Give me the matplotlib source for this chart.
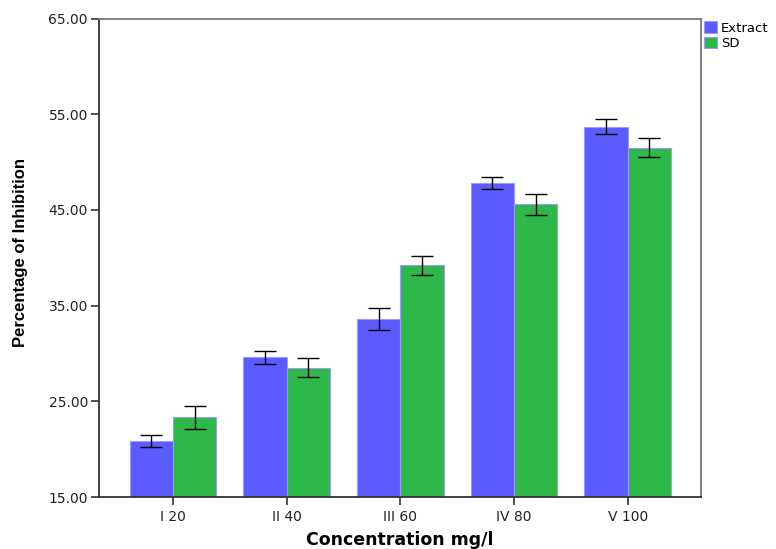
import numpy as np
import matplotlib.pyplot as plt

# data
groups = ['I 20', 'II 40', 'III 60', 'IV 80', 'V 100']
extract = [20.85, 29.6, 33.6, 47.8, 53.7]
extract_err = [0.6, 0.7, 1.2, 0.6, 0.8]
sd = [23.35, 28.5, 39.2, 45.6, 51.5]
sd_err = [1.2, 1.0, 1.0, 1.1, 1.0]

plt.rcParams['font.family'] = ['DejaVu Sans']

fig = plt.figure(figsize=(7.76, 5.49), dpi=100)
ax = fig.add_axes([0.1276, 0.0947, 0.7758, 0.8716])

x = np.arange(len(groups))
w = 0.38
ax.bar(x - w/2, extract, w, color='#5b5bff', edgecolor='#9a9aff',
       linewidth=0.8, label='Extract', zorder=2)
ax.bar(x + w/2, sd, w, color='#2fb84a', edgecolor='#9a9aff',
       linewidth=0.8, label='SD', zorder=2)
ax.errorbar(x - w/2, extract, yerr=extract_err, fmt='none', ecolor='black',
            elinewidth=1, capsize=8, capthick=1, zorder=3)
ax.errorbar(x + w/2, sd, yerr=sd_err, fmt='none', ecolor='black',
            elinewidth=1, capsize=8, capthick=1, zorder=3)

ax.set_ylim(15, 65)
ax.set_xlim(-0.65, 4.645)
ax.set_yticks(np.arange(15, 66, 10))
ax.set_yticklabels(['%.2f' % v for v in np.arange(15, 66, 10)], fontsize=10)
ax.set_xticks(x)
ax.set_xticklabels(groups, fontsize=10)
ax.tick_params(axis='both', direction='out', length=6, width=1.2, color='#333333',
               labelcolor='#222222')
ax.tick_params(axis='y', pad=2)

for s in ['left', 'bottom']:
    ax.spines[s].set_color('#333333')
    ax.spines[s].set_linewidth(1.3)
for s in ['top', 'right']:
    ax.spines[s].set_color('#777777')
    ax.spines[s].set_linewidth(1.3)

ax.set_ylabel('Percentage of Inhibition', fontsize=12, fontweight='bold',
              family=['Liberation Sans', 'DejaVu Sans'])
ax.yaxis.set_label_coords(-0.118, 0.51)
ax.set_xlabel('Concentration mg/l', fontsize=12.5, fontweight='bold')
ax.xaxis.set_label_coords(0.5, -0.072)

ax.legend(loc='upper left', bbox_to_anchor=(1.0, 1.0), frameon=False,
          fontsize=9.5, handlelength=1.0, handleheight=1.0, handletextpad=0.3,
          labelspacing=0.15, borderaxespad=0.0, borderpad=0.2)

fig.savefig('out.png', dpi=100)
